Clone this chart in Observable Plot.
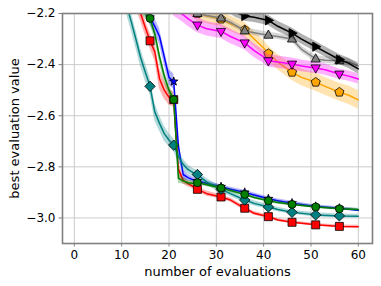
<!DOCTYPE html>
<html>
<head>
<meta charset="utf-8">
<script src="https://cdn.jsdelivr.net/npm/d3@7"></script>
<script src="https://cdn.jsdelivr.net/npm/@observablehq/plot@0.6"></script>
<style>
  html, body { margin: 0; padding: 0; background: #fff; }
  #chart { width: 381px; height: 286px; }
</style>
</head>
<body>
<div id="chart"></div>
<script>
// ---- data ----
const xTicks = [0, 10, 20, 30, 40, 50, 60];
const yTicks = [-3.0, -2.8, -2.6, -2.4, -2.2];
const xLabel = "number of evaluations";
const yLabel = "best evaluation value";
const markerEvals = [16, 21, 26, 31, 36, 41, 46, 51, 56];

const orangeX = [24, 26, 28, 31, 33, 36, 38, 40, 41, 43, 46, 48, 51, 53, 56, 58, 60];
const orangeY = [-2.17, -2.20, -2.21, -2.222, -2.24, -2.264, -2.30, -2.335, -2.357, -2.39, -2.43, -2.45, -2.469, -2.485, -2.508, -2.52, -2.538];
const orangeE = [0.03, 0.03, 0.03, 0.03, 0.03, 0.03, 0.03, 0.03, 0.03, 0.03, 0.032, 0.033, 0.035, 0.035, 0.035, 0.036, 0.037];

const magentaX = [21, 23, 24, 26, 28, 31, 33, 36, 38, 40, 41, 43, 46, 48, 51, 53, 56, 58, 60];
const magentaY = [-2.18, -2.205, -2.22, -2.245, -2.26, -2.27, -2.29, -2.315, -2.345, -2.37, -2.385, -2.39, -2.398, -2.405, -2.413, -2.42, -2.437, -2.445, -2.456];
const magentaE = [0.03, 0.03, 0.03, 0.03, 0.028, 0.028, 0.028, 0.027, 0.027, 0.025, 0.025, 0.024, 0.024, 0.023, 0.022, 0.022, 0.02, 0.02, 0.02];

const greyX = [24, 26, 28, 31, 33, 36, 38, 41, 43, 46, 48, 51, 53, 56, 58, 60];
const greyY = [-2.19, -2.20, -2.208, -2.218, -2.235, -2.268, -2.275, -2.285, -2.29, -2.30, -2.34, -2.378, -2.383, -2.385, -2.39, -2.405];
const greyE = [0.012, 0.012, 0.012, 0.012, 0.012, 0.012, 0.012, 0.012, 0.012, 0.012, 0.013, 0.014, 0.014, 0.014, 0.014, 0.014];

const blackX = [32, 34, 36, 38, 41, 43, 46, 48, 51, 53, 56, 58, 60];
const blackY = [-2.17, -2.195, -2.21, -2.215, -2.227, -2.25, -2.277, -2.30, -2.33, -2.35, -2.38, -2.395, -2.417];
const blackE = [0.02, 0.02, 0.02, 0.02, 0.02, 0.02, 0.02, 0.02, 0.02, 0.02, 0.02, 0.02, 0.02];

const redX = [13, 14, 15, 16, 17, 18, 19, 20, 21, 22, 23, 24, 25, 26, 28, 31, 33, 35, 36, 38, 41, 43, 46, 51, 56, 60];
const redY = [-2.15, -2.20, -2.255, -2.307, -2.35, -2.455, -2.50, -2.528, -2.537, -2.81, -2.853, -2.866, -2.876, -2.888, -2.905, -2.918, -2.93, -2.952, -2.962, -2.982, -2.995, -3.008, -3.017, -3.027, -3.033, -3.034];
const redE = [0.03, 0.03, 0.03, 0.03, 0.035, 0.04, 0.035, 0.03, 0.03, 0.03, 0.015, 0.012, 0.01, 0.01, 0.01, 0.008, 0.008, 0.008, 0.008, 0.007, 0.007, 0.006, 0.006, 0.005, 0.005, 0.005];

const blueX = [14, 15, 16, 17, 18, 19, 20, 21, 22, 23, 24, 25, 26, 28, 31, 33, 36, 38, 41, 43, 46, 51, 56, 60];
const blueY = [-2.15, -2.18, -2.215, -2.25, -2.29, -2.37, -2.45, -2.466, -2.72, -2.83, -2.842, -2.85, -2.855, -2.865, -2.878, -2.888, -2.90, -2.91, -2.925, -2.933, -2.942, -2.955, -2.962, -2.97];
const blueE = [0.03, 0.03, 0.03, 0.03, 0.03, 0.03, 0.03, 0.03, 0.03, 0.02, 0.012, 0.01, 0.01, 0.009, 0.008, 0.008, 0.008, 0.008, 0.007, 0.007, 0.007, 0.006, 0.006, 0.006];

const tealX = [10, 11, 12, 13, 14, 15, 16, 17, 18, 19, 20, 21, 22, 23, 24, 25, 26, 28, 31, 33, 36, 38, 41, 43, 46, 51, 56, 60];
const tealY = [-2.10, -2.165, -2.23, -2.30, -2.372, -2.43, -2.485, -2.585, -2.63, -2.67, -2.695, -2.715, -2.76, -2.79, -2.81, -2.822, -2.83, -2.86, -2.888, -2.905, -2.93, -2.943, -2.957, -2.967, -2.978, -2.988, -2.992, -2.993];
const tealE = [0.035, 0.035, 0.035, 0.035, 0.035, 0.035, 0.035, 0.035, 0.03, 0.03, 0.025, 0.025, 0.022, 0.02, 0.018, 0.016, 0.015, 0.013, 0.012, 0.011, 0.01, 0.01, 0.009, 0.009, 0.008, 0.008, 0.007, 0.007];

const greenX = [13, 14, 15, 16, 17, 18, 19, 20, 21, 22, 23, 24, 25, 26, 28, 31, 33, 36, 38, 41, 43, 46, 51, 56, 60];
const greenY = [-2.15, -2.18, -2.20, -2.219, -2.28, -2.37, -2.445, -2.50, -2.537, -2.845, -2.855, -2.862, -2.864, -2.862, -2.87, -2.883, -2.893, -2.908, -2.92, -2.933, -2.94, -2.947, -2.957, -2.964, -2.967];
const greenE = [0.02, 0.02, 0.02, 0.02, 0.025, 0.025, 0.025, 0.02, 0.02, 0.02, 0.012, 0.01, 0.01, 0.008, 0.008, 0.007, 0.007, 0.006, 0.006, 0.006, 0.006, 0.005, 0.005, 0.005, 0.005];

// ---- symbols ----
function polySym(pts) {
  return {
    draw(ctx, size) {
      const r = Math.sqrt(size / Math.PI);
      pts.forEach(([px, py], i) => i ? ctx.lineTo(px * r, py * r) : ctx.moveTo(px * r, py * r));
      ctx.closePath();
    }
  };
}
function regular(n, R, rot, inner) {
  const pts = [];
  const m = inner ? n * 2 : n;
  for (let i = 0; i < m; i++) {
    const a = rot + (i * 2 * Math.PI) / m;
    const rr = inner && i % 2 ? inner : R;
    pts.push([rr * Math.cos(a), rr * Math.sin(a)]);
  }
  return pts;
}
const symSquare = polySym([[-1, -1], [1, -1], [1, 1], [-1, 1]]);
const symDiamond = polySym([[0, -1.3], [1.3, 0], [0, 1.3], [-1.3, 0]]);
const symTriUp = polySym([[0, -1.3], [1.15, 0.75], [-1.15, 0.75]]);
const symTriDown = polySym([[0, 1.3], [1.15, -0.75], [-1.15, -0.75]]);
const symTriRight = polySym([[1.3, 0], [-0.75, 1.15], [-0.75, -1.15]]);
const symPent = polySym(regular(5, 1.2, -Math.PI / 2));
const symStar = polySym(regular(5, 1.35, -Math.PI / 2, 0.55));

function rows(X, Y, E) {
  return X.map((x, i) => ({x, y: Y[i], lo: Y[i] - E[i], hi: Y[i] + E[i]}));
}

const series = [
  {data: rows(orangeX, orangeY, orangeE), color: "orange", sym: symPent, r: 4},
  {data: rows(magentaX, magentaY, magentaE), color: "magenta", sym: symTriDown, r: 4},
  {data: rows(greyX, greyY, greyE), color: "grey", sym: symTriUp, r: 4},
  {data: rows(blackX, blackY, blackE), color: "black", sym: symTriRight, r: 4},
  {data: rows(redX, redY, redE), color: "red", sym: symSquare, r: 4},
  {data: rows(blueX, blueY, blueE), color: "blue", sym: symStar, r: 3.4},
  {data: rows(tealX, tealY, tealE), color: "teal", sym: symDiamond, r: 4},
  {data: rows(greenX, greenY, greenE), color: "green", sym: "circle", r: 4}
];

const marks = [
  Plot.gridX(xTicks, {stroke: "#cccccc", strokeOpacity: 1, strokeWidth: 1}),
  Plot.gridY(yTicks, {stroke: "#cccccc", strokeOpacity: 1, strokeWidth: 1})
];
for (const s of series) {
  marks.push(Plot.areaY(s.data, {x: "x", y1: "lo", y2: "hi", fill: s.color, fillOpacity: 0.3, clip: true}));
  marks.push(Plot.lineY(s.data, {x: "x", y: "y", stroke: s.color, strokeWidth: 1.5, clip: true}));
  marks.push(Plot.dot(s.data.filter(d => markerEvals.includes(d.x)), {
    x: "x", y: "y", symbol: s.sym, r: s.r, fill: s.color, stroke: "black", strokeWidth: 0.8, clip: true
  }));
}
marks.push(
  Plot.frame({stroke: "#808080", strokeWidth: 1.6}),
  Plot.axisX(xTicks, {tickSize: 3.5, tickPadding: 3.5, stroke: "#808080", label: null, fill: "black"}),
  Plot.axisY(yTicks, {tickSize: 3.5, tickPadding: 3.5, stroke: "#808080", label: null, fill: "black",
    tickFormat: d3.format(".1f")}),
  Plot.text([xLabel], {frameAnchor: "bottom", dy: 28, lineAnchor: "middle", textAnchor: "middle", fill: "black", fontSize: 13}),
  Plot.text([yLabel], {frameAnchor: "left", dx: -48, rotate: -90, lineAnchor: "middle", textAnchor: "middle", fill: "black", fontSize: 13})
);

const chart = Plot.plot({
  width: 381,
  height: 286,
  marginLeft: 62,
  marginRight: 9,
  marginTop: 13,
  marginBottom: 43,
  style: {fontFamily: "DejaVu Sans", fontSize: "12px", color: "black", background: "white"},
  x: {domain: [-2.5, 63]},
  y: {domain: [-3.1, -2.2]},
  marks
});
document.getElementById("chart").appendChild(chart);
</script>
</body>
</html>
